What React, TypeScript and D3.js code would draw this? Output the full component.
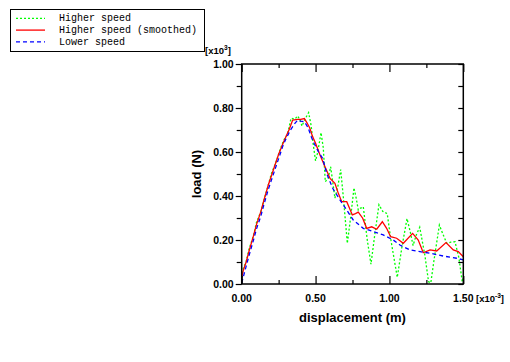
import React, { useEffect, useRef } from 'react';
import * as d3 from 'd3';

// [displacement x10^-3 m, load x10^3 N]
const higherSpeed: [number, number][] = [
  [0, 0.03], [0.01, 0.07], [0.03, 0.1], [0.05, 0.16], [0.08, 0.22], [0.1, 0.28], [0.13, 0.33],
  [0.15, 0.38], [0.18, 0.45], [0.2, 0.5], [0.23, 0.55], [0.25, 0.59], [0.27, 0.63], [0.29, 0.66],
  [0.31, 0.68], [0.334, 0.753], [0.36, 0.75], [0.379, 0.764], [0.395, 0.745], [0.408, 0.718],
  [0.425, 0.745], [0.453, 0.779], [0.47, 0.72], [0.485, 0.63], [0.5, 0.56], [0.515, 0.6],
  [0.537, 0.688], [0.552, 0.62], [0.566, 0.465], [0.585, 0.48], [0.602, 0.533], [0.615, 0.47],
  [0.631, 0.39], [0.65, 0.44], [0.67, 0.52], [0.69, 0.38], [0.715, 0.185], [0.737, 0.3],
  [0.76, 0.437], [0.775, 0.39], [0.789, 0.336], [0.805, 0.345], [0.823, 0.351], [0.85, 0.2],
  [0.875, 0.09], [0.9, 0.22], [0.929, 0.36], [0.955, 0.33], [0.985, 0.32], [1.01, 0.2],
  [1.053, 0.03], [1.085, 0.17], [1.119, 0.297], [1.14, 0.24], [1.16, 0.175], [1.18, 0.22],
  [1.205, 0.258], [1.24, 0.13], [1.265, 0.01], [1.28, 0.005], [1.3, 0.1], [1.338, 0.268],
  [1.36, 0.23], [1.388, 0.185], [1.415, 0.19], [1.444, 0.192], [1.47, 0.12], [1.493, 0.01],
  [1.5, 0.03],
];

const higherSmoothed: [number, number][] = [
  [0, 0.03], [0.01, 0.06], [0.03, 0.1], [0.05, 0.15], [0.08, 0.22], [0.1, 0.27], [0.13, 0.33],
  [0.15, 0.38], [0.18, 0.45], [0.2, 0.49], [0.23, 0.55], [0.25, 0.59], [0.28, 0.64], [0.3, 0.67],
  [0.32, 0.7], [0.345, 0.745], [0.38, 0.748], [0.4, 0.748], [0.424, 0.752], [0.44, 0.735],
  [0.46, 0.71], [0.48, 0.67], [0.5, 0.64], [0.53, 0.586], [0.564, 0.533], [0.598, 0.48],
  [0.631, 0.458], [0.654, 0.412], [0.677, 0.374], [0.711, 0.374], [0.749, 0.314], [0.77, 0.32],
  [0.789, 0.327], [0.819, 0.299], [0.846, 0.253], [0.88, 0.26], [0.914, 0.249], [0.952, 0.283],
  [0.981, 0.253], [1.008, 0.215], [1.049, 0.208], [1.094, 0.185], [1.157, 0.23], [1.195, 0.2],
  [1.229, 0.142], [1.275, 0.155], [1.32, 0.15], [1.383, 0.188], [1.432, 0.155], [1.466, 0.147],
  [1.5, 0.124],
];

const lowerSpeed: [number, number][] = [
  [0, 0.005], [0.01, 0.03], [0.03, 0.08], [0.05, 0.13], [0.08, 0.2], [0.1, 0.25], [0.13, 0.31],
  [0.15, 0.36], [0.18, 0.43], [0.2, 0.47], [0.23, 0.53], [0.25, 0.57], [0.28, 0.63], [0.3, 0.66],
  [0.33, 0.7], [0.36, 0.73], [0.379, 0.745], [0.4, 0.74], [0.424, 0.738], [0.45, 0.71],
  [0.47, 0.67], [0.49, 0.64], [0.52, 0.6], [0.548, 0.571], [0.575, 0.503], [0.616, 0.435],
  [0.665, 0.382], [0.711, 0.336], [0.755, 0.291], [0.823, 0.253], [0.891, 0.238], [0.958, 0.223],
  [1.026, 0.2], [1.071, 0.177], [1.139, 0.155], [1.207, 0.147], [1.275, 0.14], [1.365, 0.127],
  [1.455, 0.117], [1.5, 0.11],
];

const xMajor = [0, 0.5, 1, 1.5];
const xMinor = [0.25, 0.75, 1.25];
const yMajor = [0, 0.2, 0.4, 0.6, 0.8, 1.0];
const yMinor = [0.1, 0.3, 0.5, 0.7, 0.9];

const series = [
  { name: 'Higher speed', data: higherSpeed, color: '#00ff00', dash: '2,2' },
  { name: 'Higher speed (smoothed)', data: higherSmoothed, color: '#ff0000', dash: null },
  { name: 'Lower speed', data: lowerSpeed, color: '#0000ff', dash: '4,3' },
];

const W = 510;
const H = 362;
const plot = { left: 241.7, right: 463.3, top: 64, bottom: 284 };
const labelFont = '"Liberation Sans", Arial, sans-serif';
const tickFontSize = 10.5;

export default function App() {
  const svgRef = useRef<SVGSVGElement>(null);

  useEffect(() => {
    const svg = d3.select(svgRef.current);
    svg.selectAll('*').remove();

    const x = d3.scaleLinear().domain([0, 1.5]).range([plot.left, plot.right]);
    const y = d3.scaleLinear().domain([0, 1]).range([plot.bottom, plot.top]);

    // Curves
    const line = d3.line<[number, number]>().x((d) => x(d[0])).y((d) => y(d[1]));
    series.forEach((s) => {
      svg.append('path')
        .datum(s.data)
        .attr('d', line)
        .attr('fill', 'none')
        .attr('stroke', s.color)
        .attr('stroke-width', 1.3)
        .attr('stroke-dasharray', s.dash);
    });

    // Frame
    svg.append('rect')
      .attr('x', plot.left)
      .attr('y', plot.top)
      .attr('width', plot.right - plot.left)
      .attr('height', plot.bottom - plot.top)
      .attr('fill', 'none')
      .attr('stroke', '#000')
      .attr('stroke-width', 1.5);

    const styleAxis = (g: any) => {
      g.select('.domain').remove();
      g.selectAll('line').attr('stroke', '#000').attr('stroke-width', 1.2);
      g.selectAll('text')
        .attr('fill', '#000')
        .attr('font-family', labelFont)
        .attr('font-weight', 'bold')
        .attr('font-size', tickFontSize);
    };

    // Left axis (labels, outward ticks)
    svg.append('g')
      .attr('transform', `translate(${plot.left},0)`)
      .call(d3.axisLeft(y).tickValues(yMajor).tickSize(6).tickPadding(2).tickFormat(d3.format('.2f')))
      .call(styleAxis);
    svg.append('g')
      .attr('transform', `translate(${plot.left},0)`)
      .call(d3.axisLeft(y).tickValues(yMinor).tickSize(5).tickFormat(() => ''))
      .call(styleAxis);

    // Right axis (inward)
    svg.append('g')
      .attr('transform', `translate(${plot.right},0)`)
      .call(d3.axisLeft(y).tickValues([...yMajor, ...yMinor]).tickSize(5).tickFormat(() => ''))
      .call(styleAxis);

    // Bottom axis (inward ticks)
    svg.append('g')
      .attr('transform', `translate(0,${plot.bottom})`)
      .call(d3.axisTop(x).tickValues(xMajor).tickSize(8).tickFormat(() => ''))
      .call(styleAxis);
    svg.append('g')
      .attr('transform', `translate(0,${plot.bottom})`)
      .call(d3.axisTop(x).tickValues(xMinor).tickSize(4).tickFormat(() => ''))
      .call(styleAxis);
    svg.append('g')
      .selectAll('text')
      .data(xMajor)
      .join('text')
      .attr('x', (d) => x(d))
      .attr('y', plot.bottom + 17.5)
      .attr('text-anchor', 'middle')
      .attr('font-family', labelFont)
      .attr('font-weight', 'bold')
      .attr('font-size', tickFontSize)
      .text((d) => d3.format('.2f')(d));

    // Top axis (inward)
    svg.append('g')
      .attr('transform', `translate(0,${plot.top})`)
      .call(d3.axisBottom(x).tickValues(xMajor).tickSize(8).tickFormat(() => ''))
      .call(styleAxis);
    svg.append('g')
      .attr('transform', `translate(0,${plot.top})`)
      .call(d3.axisBottom(x).tickValues(xMinor).tickSize(4).tickFormat(() => ''))
      .call(styleAxis);

    // Exponent labels
    const yExp = svg.append('text')
      .attr('x', 205)
      .attr('y', 54)
      .attr('font-family', labelFont)
      .attr('font-weight', 'bold')
      .attr('font-size', 9.5);
    yExp.append('tspan').text('[x10');
    yExp.append('tspan').attr('dy', -4).attr('font-size', 6.5).text('3');
    yExp.append('tspan').attr('dy', 4).text(']');

    const xExp = svg.append('text')
      .attr('x', 476)
      .attr('y', plot.bottom + 17.5)
      .attr('font-family', labelFont)
      .attr('font-weight', 'bold')
      .attr('font-size', 9.5);
    xExp.append('tspan').text('[x10');
    xExp.append('tspan').attr('dy', -4).attr('font-size', 6.5).text('-3');
    xExp.append('tspan').attr('dy', 4).text(']');

    // Axis titles
    svg.append('text')
      .attr('x', (plot.left + plot.right) / 2)
      .attr('y', 322)
      .attr('text-anchor', 'middle')
      .attr('font-family', labelFont)
      .attr('font-weight', 'bold')
      .attr('font-size', 13)
      .text('displacement (m)');
    svg.append('text')
      .attr('transform', `translate(201,${(plot.top + plot.bottom) / 2}) rotate(-90)`)
      .attr('text-anchor', 'middle')
      .attr('font-family', labelFont)
      .attr('font-weight', 'bold')
      .attr('font-size', 13)
      .text('load (N)');

    // Legend
    const legend = svg.append('g');
    legend.append('rect')
      .attr('x', 10.5)
      .attr('y', 9.5)
      .attr('width', 194)
      .attr('height', 42)
      .attr('fill', '#fff')
      .attr('stroke', '#000')
      .attr('stroke-width', 1);
    series.forEach((s, i) => {
      const ly = 18.3 + i * 11.8;
      legend.append('line')
        .attr('x1', 16)
        .attr('x2', 45)
        .attr('y1', ly)
        .attr('y2', ly)
        .attr('stroke', s.color)
        .attr('stroke-width', 1.3)
        .attr('stroke-dasharray', s.dash);
      legend.append('text')
        .attr('x', 59)
        .attr('y', ly + 3)
        .attr('font-family', '"Liberation Mono", "DejaVu Sans Mono", monospace')
        .attr('font-size', 10)
        .attr('fill', '#000')
        .text(s.name);
    });
  }, []);

  return (
    <svg
      ref={svgRef}
      width={W}
      height={H}
      style={{ position: 'absolute', left: 0, top: 0, background: '#fff' }}
    />
  );
}
